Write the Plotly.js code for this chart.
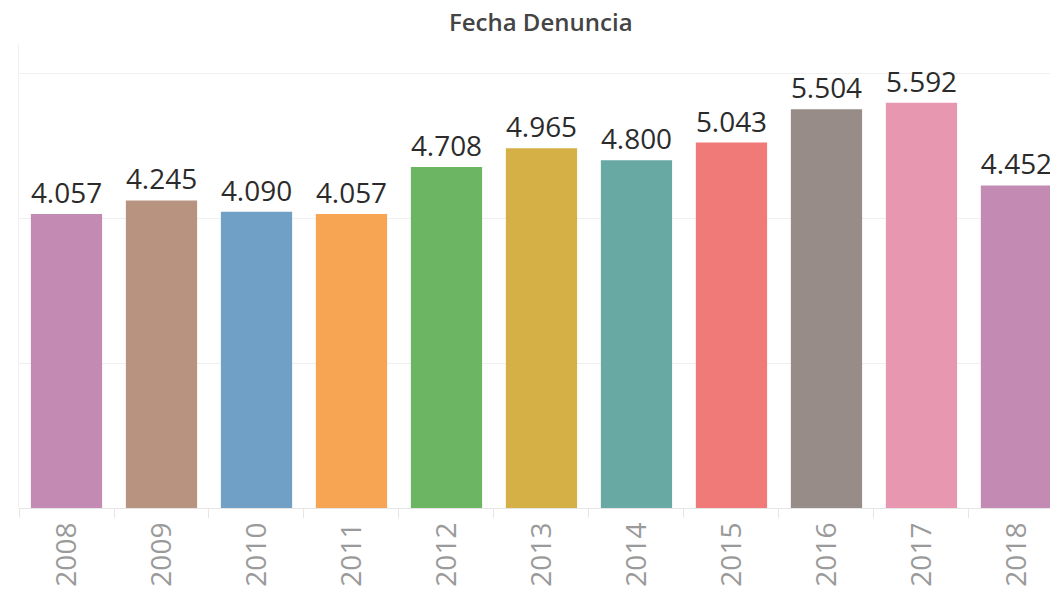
<!DOCTYPE html>
<html><head><meta charset="utf-8">
<script src="https://cdn.plot.ly/plotly-3.0.1.min.js"></script>
<style>html,body{margin:0;padding:0;background:#fff}#c{width:1050px;height:592px}</style>
</head><body><div id="c"></div>
<script>
const years = ["2008","2009","2010","2011","2012","2013","2014","2015","2016","2017","2018"];
const counts = [4057,4245,4090,4057,4708,4965,4800,5043,5504,5592,4452];
const labels = ["4.057","4.245","4.090","4.057","4.708","4.965","4.800","5.043","5.504","5.592","4.452"];
const colors = ["#C38BB3","#B79380","#70A0C6","#F8A553","#6CB663","#D4B047","#69A9A4","#F07A77","#978C88","#E897B0","#C38BB3"];

const trace = {
  type: "bar", x: years, y: counts, width: 0.75,
  marker: {color: colors, line: {width: 0}},
  text: labels, textposition: "outside", cliponaxis: false,
  textfont: {family: "Open Sans, sans-serif", size: 28, color: "#2b2b2b"},
  hoverinfo: "none"
};
const layout = {
  width: 1050, height: 592,
  margin: {l: 19, r: 0, t: 44, b: 84},
  paper_bgcolor: "#fff", plot_bgcolor: "#fff",
  title: {text: "Fecha Denuncia", x: 0.515, xanchor: "center", y: 0.962, yanchor: "middle",
          font: {family: "Open Sans, sans-serif", size: 24, weight: 600, color: "#444"}},
  xaxis: {type: "category", range: [-0.5, 10.353], tickangle: -90,
          tickson: "boundaries", ticks: "outside", ticklen: 9, tickcolor: "#e6e6e6",
          ticklabelstandoff: 8,
          showline: false, showgrid: false, zeroline: false,
          tickfont: {family: "Open Sans, sans-serif", size: 28, color: "#9a9a9a"}},
  yaxis: {range: [0, 6404], tickvals: [0, 2000, 4000, 6000], showticklabels: false,
          showgrid: true, gridcolor: "#f0f0f0", gridwidth: 1,
          zeroline: true, zerolinecolor: "#e6e6e6", zerolinewidth: 1,
          showline: true, linecolor: "#f0f0f0", linewidth: 1, ticks: ""},
  showlegend: false, bargap: 0.25, uniformtext: {mode: false}
};
Plotly.newPlot("c", [trace], layout, {displayModeBar: false, staticPlot: true});
</script></body></html>
